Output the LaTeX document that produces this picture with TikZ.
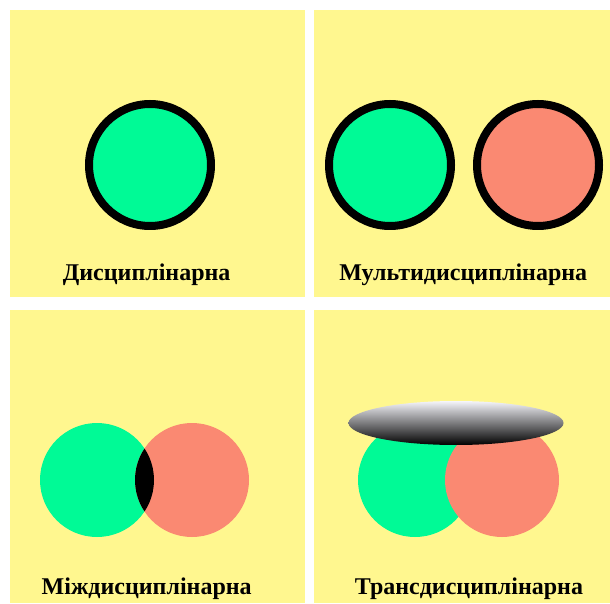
\documentclass[tikz,border=0pt]{standalone}
\usepackage{fontspec}
\setmainfont{Liberation Serif}
\usetikzlibrary{shapes.geometric, positioning}
\definecolor{panelyellow}{RGB}{255, 247, 143}
\definecolor{mint}{RGB}{0, 250, 150}
\definecolor{salmon}{RGB}{250, 137, 114}

\begin{document}
\begin{tikzpicture}[
                x=1pt, y=1pt,
                panel/.style={fill=panelyellow},
                disc/.style={circle, draw=black, line width=8pt, inner sep=0pt, minimum size=122pt},
                blob/.style={circle, inner sep=0pt, minimum size=114pt},
                lbl/.style={anchor=base, inner sep=0pt, font=\bfseries\fontsize{24}{28}\selectfont}
            ]
                \useasboundingbox (0,0) rectangle (610,603);
                \fill[white] (0,0) rectangle (610,603);
                % four panels
                \fill[panel] (10,306) rectangle (305,593);
                \fill[panel] (314,306) rectangle (610,593);
                \fill[panel] (10,0) rectangle (305,293);
                \fill[panel] (314,0) rectangle (610,293);

                % disciplinary
                \node [disc, fill=mint] (d1) at (150,438) {};
                \node [lbl] (l1) at (146.7,322) {Дисциплінарна};

                % multidisciplinary
                \node [disc, fill=mint] (m1) at (390,438) {};
                \node [disc, fill=salmon] (m2) at (538,438) {};
                \node [lbl] (l2) at (463.3,322) {Мультидисциплінарна};

                % interdisciplinary
                \node [blob, fill=mint] (i1) at (97,123) {};
                \node [blob, fill=salmon] (i2) at (192,123) {};
                \begin{scope}
                    \clip (i1) circle (57);
                    \fill[black] (i2) circle (57);
                \end{scope}
                \node [lbl] (l3) at (146.7,9) {Міждисциплінарна};

                % transdisciplinary
                \node [blob, fill=mint] (t1) at (415,123) {};
                \node [blob, fill=salmon] (t2) at (502,123) {};
                \node [ellipse, inner sep=0pt, minimum width=215pt, minimum height=44pt,
                       top color={rgb,255:red,245;green,245;blue,250}, bottom color=black] (roof) at (456,180) {};
                \node [lbl] (l4) at (469,9) {Трансдисциплінарна};
            \end{tikzpicture}
\end{document}
